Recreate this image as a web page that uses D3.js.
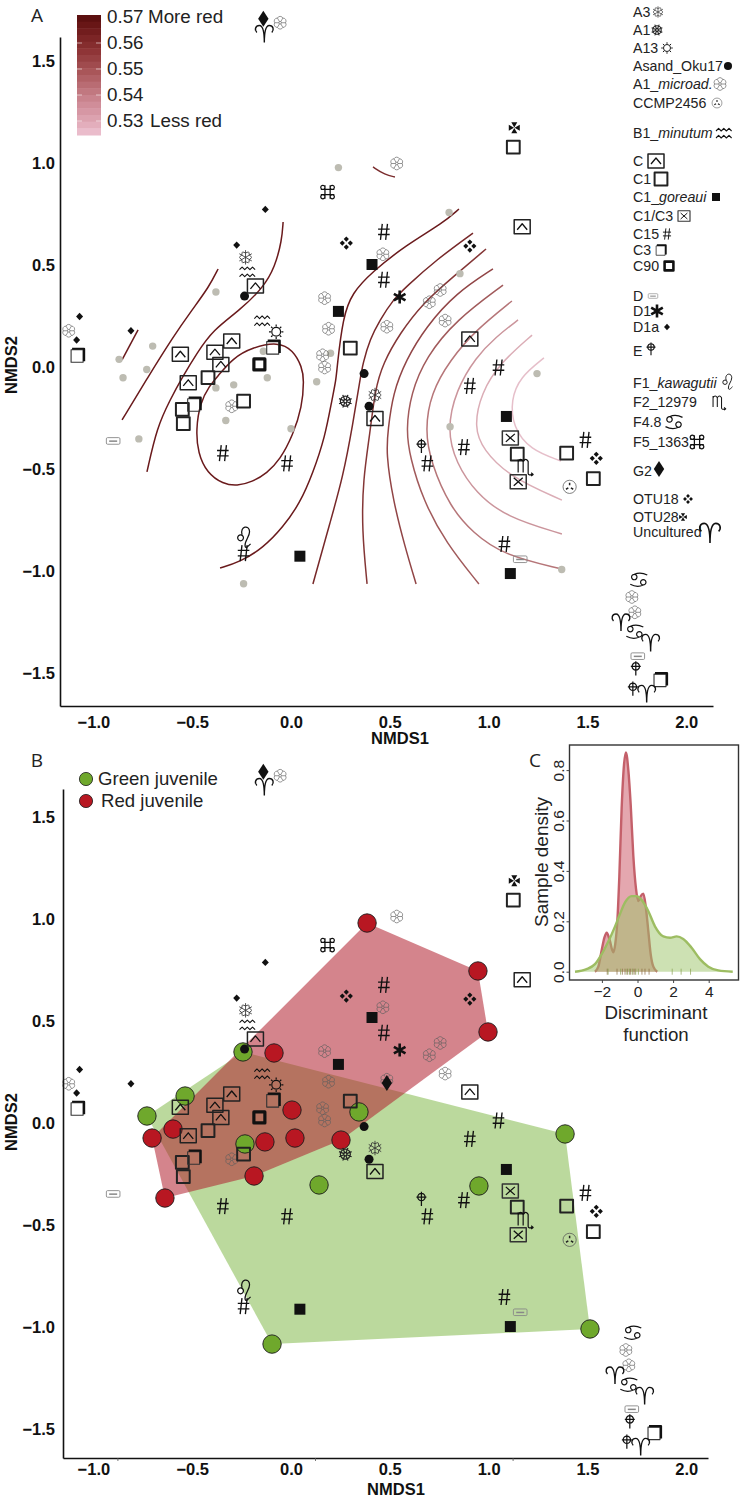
<!DOCTYPE html>
<html><head><meta charset="utf-8">
<script src="https://cdn.jsdelivr.net/npm/d3@7/dist/d3.min.js"></script>
<style>
html,body{margin:0;padding:0;background:#fff}
svg{display:block}
text{font-family:"Liberation Sans",Arial,sans-serif;fill:#111}
.letter{font-family:"Open Sans",sans-serif;font-size:19px;fill:#222}
.tick text{font-family:"Liberation Sans",Arial,sans-serif}
</style></head><body>
<svg id="chart" width="746" height="1500"></svg>
<script>
// ---------- ordination values (NMDS1, NMDS2) ----------
const ptsGrey=[[.24,.98],[-.38,.37],[-.70,.105],[-.87,.04],[-.73,-.01],[-.85,-.05],[-.14,.08],[-.12,-.05],[.20,.07],[.13,-.07],[-.38,-.10],[-.29,-.085],[-.33,-.26],[0,-.30],[-.77,-.35],[-.24,-1.06],[.80,.76],[.855,.46],[1.245,-.03],[.805,-.29],[1.37,-.99]];
const ptsC=[[-.18,.40],[-.56,.065],[-.385,.075],[-.30,.13],[-.355,.015],[-.52,-.075],[1.17,.69],[.905,.14],[.425,-.25]];
const ptsC1=[[.30,.095],[-.42,-.05],[-.55,-.205],[-.545,-.275],[-.24,-.165],[1.125,1.08],[1.145,-.425],[1.395,-.42],[1.53,-.545]];
const ptsC3=[[-1.08,.06],[-.09,.10],[-.49,-.18],[1.87,-1.53]];
const ptsC90=[[-.16,.015]];
const ptsC1C3=[[1.11,-.345],[1.15,-.56]];
const ptsGoreaui=[[.24,.275],[.41,.505],[.045,-.925],[1.09,-.24],[1.11,-1.01]];
const ptsC15=[[.47,.665],[.47,.43],[1.05,0],[.905,-.09],[.875,-.39],[.69,-.47],[1.49,-.355],[1.08,-.865],[-.345,-.42],[-.02,-.47],[-.24,-.91]];
const ptsMicroad=[[-.055,1.69],[-1.125,.18],[.17,.34],[.19,.19],[.16,.06],[.17,0],[-.30,-.19],[.535,1.0],[.465,.555],[.485,.2],[.755,.38],[.70,.32],[.78,.23],[1.725,-1.125],[1.74,-1.20]];
const ptsD1a=[[-.13,.775],[-.275,.60],[-1.07,.25],[-1.085,.135],[-.81,.18]];
const ptsB1=[[-.22,.47],[-.145,.23]];
const ptsA3=[[-.23,.54],[.425,-.135]];
const ptsA1=[[.275,-.165]];
const ptsA13=[[-.075,.175]];
const ptsAsand=[[-.235,.35],[.37,-.03],[.395,-.19]];
const ptsCCMP=[[1.41,-.585]];
const ptsD=[[-.90,-.36],[1.16,-.94],[1.755,-1.415]];
const ptsD1=[[.55,.345]];
const ptsE=[[.66,-.38],[1.745,-1.47],[1.73,-1.57]];
const ptsF1=[[-.235,-.84]];
const ptsF2=[[1.185,-.485]];
const ptsF48=[[1.76,-1.04],[1.74,-1.295]];
const ptsF5=[[.185,.86]];
const ptsG2=[[-.14,1.71]];
const ptsG2PanelB=[[.485,.184]];
const ptsOTU18=[[.28,.61],[.905,.595],[1.545,-.445]];
const ptsOTU28=[[1.13,1.175]];
const ptsUncultured=[[-.135,1.64],[1.67,-1.245],[1.82,-1.345],[1.80,-1.595]];

// ---------- red-ness contours of panel A ----------
const contourLoop=[[-.374,-.047],[-.294,.047],[-.192,.1],[-.066,.125],[.01,.086],[.056,.002],[.066,-.061],[.056,-.194],[.01,-.331],[-.056,-.453],[-.121,-.517],[-.197,-.561],[-.273,-.581],[-.344,-.571],[-.425,-.517],[-.471,-.419],[-.481,-.306],[-.461,-.174],[-.41,-.086]];
const contour1=[[-.774,.184],[-.855,.037]];
const contour2=[[-.369,.483],[-.415,.395],[-.501,.282],[-.597,.15],[-.724,-.047],[-.855,-.257]];
const contour3=[[-.04,.713],[-.046,.625],[-.081,.493],[-.142,.39],[-.258,.282],[-.395,.184],[-.476,.071],[-.552,-.051],[-.612,-.159],[-.678,-.292],[-.729,-.512]];
const contourShort=[[.415,.983],[.476,.944],[.526,.934]];
const contour4=[[-.359,-.983],[-.258,-.953],[-.142,-.885],[-.04,-.782],[.046,-.664],[.111,-.517],[.172,-.341],[.207,-.159],[.228,-.061],[.233,.002],[.263,.248],[.309,.365],[.41,.468],[.582,.6],[.769,.708],[.85,.777]];
const contour5=[[.111,-1.061],[.197,-.762],[.263,-.537],[.314,-.272],[.349,-.061],[.364,.022],[.40,.14],[.45,.233],[.516,.331],[.582,.395],[.734,.527],[.921,.659]];
const contour6=[[.385,-1.061],[.359,-.797],[.364,-.551],[.4,-.321],[.425,-.11],[.466,.022],[.552,.169],[.668,.316],[.82,.444],[.987,.581]];
const contour7=[[.633,-1.061],[.577,-.88],[.516,-.65],[.481,-.419],[.491,-.306],[.516,-.125],[.582,.037],[.683,.199],[.835,.365],[1.022,.483]];
const contour8=[[.951,-1.061],[.784,-.86],[.668,-.65],[.602,-.439],[.582,-.306],[.607,-.125],[.683,.051],[.835,.233],[1.073,.404]];
const contour9=[[1.371,-.988],[1.073,-.919],[.921,-.811],[.805,-.684],[.708,-.468],[.678,-.306],[.708,-.125],[.805,.037],[.936,.184],[1.118,.326]];
const contour10=[[1.371,-.816],[1.088,-.733],[.936,-.615],[.835,-.468],[.789,-.306],[.835,-.11],[.936,.051],[1.037,.15],[1.149,.233]];
const contour11=[[1.371,-.65],[1.108,-.537],[.972,-.404],[.926,-.292],[.962,-.125],[1.058,.022],[1.22,.159]];
const contour12=[[1.366,-.458],[1.21,-.404],[1.123,-.292],[1.113,-.159],[1.159,-.047],[1.28,.047]];
const contourSets=[[contourLoop,.57,true],[contour1,.57],[contour2,.57],[contour3,.57],[contourShort,.565],[contour4,.57],[contour5,.566],[contour6,.562],[contour7,.558],[contour8,.553],[contour9,.547],[contour10,.541],[contour11,.535],[contour12,.53]];

// ---------- panel B juveniles ----------
const ptsRedJuv=[[.385,.968],[.946,.733],[.997,.434],[-.086,.331],[.005,.051],[-.597,-.042],[-.703,-.086],[-.132,-.105],[.02,-.086],[.253,-.096],[-.187,-.272],[-.638,-.38]];
const ptsGreenJuv=[[-.243,.336],[-.536,.12],[-.729,.022],[.344,.042],[-.233,-.115],[.142,-.316],[-.096,-1.096],[1.387,-.066],[.951,-.321],[1.513,-1.022]];

// ---------- panel C densities ----------
const densityRed=[[-2.39,0],[-2.2,.02],[-2.01,.086],[-1.86,.135],[-1.73,.155],[-1.58,.13],[-1.36,.077],[-1.25,.11],[-1.13,.205],[-1.02,.38],[-.89,.65],[-.76,.82],[-.65,.87],[-.515,.80],[-.38,.66],[-.235,.46],[-.085,.33],[.05,.28],[.18,.30],[.33,.31],[.46,.26],[.61,.16],[.74,.07],[.89,.02],[1.11,0]];
const densityGreen=[[-3.51,0],[-2.86,.01],[-2.39,.03],[-2.01,.07],[-1.64,.12],[-1.26,.18],[-.98,.23],[-.70,.275],[-.33,.30],[-.05,.30],[.23,.285],[.61,.24],[.98,.18],[1.45,.14],[1.83,.135],[2.2,.14],[2.57,.13],[3.04,.095],[3.51,.05],[3.98,.02],[4.54,.005],[5.35,0]];
const rugRed=[-1.7,-1.15,-.85,-.7,-.55,-.4,-.25,-.15,.25,.42,.65];
const rugGreen=[-1.65,-.95,-.6,-.45,-.3,-.1,.05,1.95,2.45,2.98];

const xTicks=[-1,-.5,0,.5,1,1.5,2];
const yTicks=[-1.5,-1,-.5,0,.5,1,1.5];
const cbTicks=[.57,.56,.55,.54,.53];
const cbNotes=["More red","","","","Less red"];
const cxTicks=[-2,0,2,4];
const cyTicks=[0,.2,.4,.6,.8];

// ---------- glyphs ----------
const circ=(x,y,r)=>{const p=d3.path();p.moveTo(x+r,y);p.arc(x,y,r,0,2*Math.PI);p.closePath();return p.toString();};
const polar=(r,deg)=>[r*Math.cos(deg*Math.PI/180),r*Math.sin(deg*Math.PI/180)];
function rosettePath(){let d="";const n=6,R=5.4,a=3,inner=1.3;
  const start=polar(R,0);d+=`M${start}`;
  for(let i=1;i<=n;i++){const q=polar(R,i*60);d+=`A${a},${a} 0 0 1 ${q}`;}
  d+="Z";for(let i=0;i<n;i++){const p=polar(inner,i*60),q=polar(R,i*60);d+=`M${p}L${q}`;}
  d+=circ(0,0,inner);return d;}
function snowPath(){let d="";[30,90,150,210,270,330].forEach(t=>{const q=polar(7.2,t),m=polar(4.4,t),b1=polar(6.2,t-28),b2=polar(6.2,t+28);d+=`M0,0L${q}M${m}L${b1}M${m}L${b2}`;});return d;}
function wheelPath(){let d=circ(0,0,1.6)+circ(0,0,5);for(let i=0;i<8;i++){const p=polar(1.6,i*45+22.5),q=polar(6.8,i*45+22.5);d+=`M${p}L${q}`;}return d;}
function sunPath(){let d=circ(0,0,4.4);for(let i=0;i<8;i++){const p=polar(5.2,i*45),q=polar(7.2,i*45);d+=`M${p}L${q}`;}return d;}
const zig=y=>`M-8,${y}l2.6,-2.6l2.6,2.6l2.6,-2.6l2.6,2.6l2.6,-2.6l2.6,2.6`;
const diam=(x,y,rx,ry)=>`M${x},${y-ry}L${x+rx},${y}L${x},${y+ry}L${x-rx},${y}Z`;
const glyphs={
 microad:[{d:rosettePath(),s:"#5f5f5f",w:.65}],
 A3:[{d:snowPath(),s:"#333",w:.85}],
 A1:[{d:wheelPath(),s:"#222",w:1.25}],
 A13:[{d:sunPath(),s:"#111",w:1.2}],
 Asand:[{d:circ(0,0,4.5),f:"#111"}],
 CCMP:[{d:circ(0,0,6.6),s:"#555",w:.75},{d:"M0,-1.5V-4M-1.3,1L-3.6,2.4M1.3,1L3.6,2.4",s:"#222",w:1.5}],
 B1:[{d:zig(-2)+zig(5),s:"#111",w:1.1}],
 C:[{d:"M-8,-7H8V7H-8Z",s:"#222",w:1.5},{d:"M-5,3L0,-3L5,3",s:"#111",w:1.3}],
 C1:[{d:"M-6.4,-6.4H6.4V6.4H-6.4Z",s:"#222",w:2}],
 goreaui:[{d:"M-5.5,-5.5H5.5V5.5H-5.5Z",f:"#111"}],
 C1C3:[{d:"M-8,-7H8V7H-8Z",s:"#333",w:1.5},{d:"M-4.5,-4L4.5,4M-4.5,4L4.5,-4",s:"#111",w:1.3}],
 C15:[{d:"M-1.6,-8L-3.4,8M3.6,-8L1.8,8M-5.8,-2.7H5.8M-5.8,2.7H5.8",s:"#111",w:1.35}],
 C3:[{d:"M-6.5,-5.5H5.5V7H-6.5Z",s:"#333",w:1.1},{d:"M-5.5,-6.5H6.5V6",s:"#111",w:2.2}],
 C90:[{d:"M-5.5,-5.5H5.5V5.5H-5.5Z",s:"#111",w:3.2}],
 D:[{d:"M-5.6,-3.3H5.6Q6.8,-3.3 6.8,-2.1V2.1Q6.8,3.3 5.6,3.3H-5.6Q-6.8,3.3 -6.8,2.1V-2.1Q-6.8,-3.3 -5.6,-3.3Z",s:"#888",w:.9},{d:"M-4,.2H4",s:"#888",w:1.5}],
 D1:[{d:"M0,-6.5V6.5M-5.8,-3.3L5.8,3.3M-5.8,3.3L5.8,-3.3",s:"#111",w:2.6}],
 D1a:[{d:diam(0,0,3.5,3.7),f:"#111"}],
 E:[{d:circ(0,-1,3.7)+"M0,-6.2V8M-5,-1H5",s:"#111",w:1.25}],
 F1:[{d:circ(-4,-1,2.9)+"M-2.5,-4C-5,-13 5,-14.5 5,-7C5,-2 0,2 .5,7C1,10 3,8 6,5",s:"#111",w:1.25}],
 F2:[{d:"M-7,-7V6M-7,-5Q-4.5,-9 -2,-5V6M-2,-5Q.5,-9 3,-5V7Q3,9.3 8,8M6,6.3L8,8L6,9.6",s:"#111",w:1.2}],
 F48:[{d:circ(-4.5,-2.6,2.7)+circ(4.5,2.6,2.7)+"M-4.5,-5.3C-1,-7 4,-7 8.5,-4.6M4.5,5.3C1,7 -4,7 -8.5,4.6",s:"#111",w:1.2}],
 F5:[{d:"M-2.6,-6.8V6.8M2.6,-6.8V6.8M-6.8,-2.6H6.8M-6.8,2.6H6.8"+circ(-4.7,-4.7,2.1)+circ(4.7,-4.7,2.1)+circ(-4.7,4.7,2.1)+circ(4.7,4.7,2.1),s:"#111",w:1.25}],
 G2:[{d:diam(0,0,5.2,8),f:"#111"}],
 OTU18:[{d:diam(0,-4,2.6,2.6)+diam(0,4,2.6,2.6)+diam(-4,0,2.6,2.6)+diam(4,0,2.6,2.6),f:"#111"}],
 OTU28:[{d:"M0,-.3L-3,-5.5H3ZM0,.3L-3,5.5H3ZM-.3,0L-5.5,-3V3ZM.3,0L5.5,-3V3Z",f:"#111"}],
 Uncultured:[{d:"M0,9.5C0,1 -1,-7.5 -5,-7.5C-9,-7.5 -10,-3 -7.5,-.5M0,9.5C0,1 1,-7.5 5,-7.5C9,-7.5 10,-3 7.5,-.5",s:"#111",w:1.4}]
};
function mark(parent,key,x,y,k=1){
  const g=parent.append("g").attr("class","sym sym-"+key).attr("transform",`translate(${x},${y}) scale(${k})`);
  g.selectAll("path").data(glyphs[key]).join("path").attr("d",p=>p.d)
    .attr("fill",p=>p.f||"none").attr("stroke",p=>p.s||"none").attr("stroke-width",p=>p.w||0)
    .attr("stroke-linejoin","round");
}
const symbolSets=[["microad",ptsMicroad],["Asand",ptsAsand],["A3",ptsA3],["A1",ptsA1],["A13",ptsA13],["CCMP",ptsCCMP],["B1",ptsB1],["C",ptsC],["C1",ptsC1],["goreaui",ptsGoreaui],["C1C3",ptsC1C3],["C15",ptsC15],["C3",ptsC3],["C90",ptsC90],["D",ptsD],["D1",ptsD1],["D1a",ptsD1a],["E",ptsE],["F1",ptsF1],["F2",ptsF2],["F48",ptsF48],["F5",ptsF5],["G2",ptsG2],["OTU18",ptsOTU18],["OTU28",ptsOTU28],["Uncultured",ptsUncultured]];

// ---------- layout ----------
const svg=d3.select("#chart");
const pxX=197.6,pxY=204;
const scaleX=(left,right,x0=291)=>d3.scaleLinear().domain([(left-x0)/pxX,(right-x0)/pxX]).range([left,right]);
const scaleY=(bottom,topEdge,y0)=>d3.scaleLinear().domain([(y0-bottom)/pxY,(y0-topEdge)/pxY]).range([bottom,topEdge]);
const xA=scaleX(60,713),yA=scaleY(706,37,367.5);
const xB=scaleX(63,708),yB=scaleY(1458,789,1120.5);
const fmt1=d3.format(".1f");

function axes(xs,ys,bottom,left,xPad,yPad,yShift){
  const ax=svg.append("g").attr("transform",`translate(0,${bottom})`)
    .call(d3.axisBottom(xs).tickValues(xTicks).tickFormat(fmt1).tickSize(0).tickPadding(xPad));
  const ay=svg.append("g").attr("transform",`translate(${left},0)`)
    .call(d3.axisLeft(ys).tickValues(yTicks).tickFormat(fmt1).tickSize(0).tickPadding(yPad));
  ay.selectAll("text").attr("transform",`translate(0,${yShift})`);
  [ax,ay].forEach(a=>{a.selectAll("text").style("font-size","16.5px").style("font-weight","700").style("fill","#111");
    a.select(".domain").attr("stroke","#111").attr("stroke-width",1.6);});
}
function symbols(g,xs,ys,extra=[],shift=()=>0){
  symbolSets.concat(extra).forEach(([key,pts])=>pts.forEach(p=>mark(g,key,xs(p[0])+shift(p),ys(p[1]))));
}

// ---------- panel A ----------
const levelColor=d3.scaleLinear().domain([.53,.54,.55,.56,.57]).range(["#e6bfca","#cf9aa2","#ab6668","#8a3d3d","#6a1a1c"]);
const gA=svg.append("g");
const lineA=d3.line().x(d=>xA(d[0])).y(d=>yA(d[1])).curve(d3.curveBasis);
const loopA=d3.line().x(d=>xA(d[0])).y(d=>yA(d[1])).curve(d3.curveBasisClosed);
gA.selectAll("path.contour").data(contourSets).join("path").attr("class","contour")
  .attr("d",c=>(c[2]?loopA:lineA)(c[0])).attr("fill","none")
  .attr("stroke",c=>levelColor(c[1])).attr("stroke-width",1.5);
gA.selectAll("circle.env").data(ptsGrey).join("circle").attr("class","env")
  .attr("cx",d=>xA(d[0])).attr("cy",d=>yA(d[1])).attr("r",3.7).attr("fill","#bdbcb2");
symbols(gA,xA,yA);
axes(xA,yA,706,60,10,5,0);
svg.append("text").attr("x",400).attr("y",744).attr("text-anchor","middle").style("font-size","16.5px").style("font-weight","700").text("NMDS1");
svg.append("text").attr("transform","translate(17,365) rotate(-90)").attr("text-anchor","middle").style("font-size","16.5px").style("font-weight","700").text("NMDS2");
svg.append("text").attr("class","letter").attr("x",37).attr("y",22).attr("text-anchor","middle").text("A");

// colour bar
const cbY=d3.scaleLinear().domain([.57,.53]).range([17,121]);
const cbBands=d3.range(18);
const cbVal=d3.scaleLinear().domain([0,17]).range([.5745,.5255]);
const rampBar=d3.scaleLinear().domain([.5255,.53,.54,.55,.56,.57,.5745]).range(["#eabccb","#dfa6b4","#c9838d","#ad5b5f","#8f3537","#6e1a1a","#5c1010"]);
svg.append("g").selectAll("rect").data(cbBands).join("rect").attr("x",77).attr("width",24)
  .attr("y",i=>15+i*120/18).attr("height",120/18+.5).attr("fill",i=>rampBar(cbVal(i)));
svg.append("g").selectAll("path").data(cbTicks.slice(1)).join("path")
  .attr("d",v=>`M77,${cbY(v)}h5M96,${cbY(v)}h5`).attr("stroke","#fff").attr("stroke-opacity",.7).attr("stroke-width",.8);
const cbLab=svg.append("g").selectAll("g").data(cbTicks).join("g");
cbLab.append("text").attr("x",107).attr("y",(v,i)=>cbY(v)+6).style("font-size","18.8px").style("fill","#222").text(d3.format(".2f"));
cbLab.append("text").attr("x",(v,i)=>i===0?148:150).attr("y",(v,i)=>cbY(v)+6).style("font-size","18.8px").style("fill","#222").text((v,i)=>cbNotes[i]);

// key of symbols
const keyItems=[
 ["A3","","A3",12,658,.8],["A1","","A1",30,657,.85],["A13","","A13",48,667,.8],["Asand_Oku17","","Asand",66,728,.9],
 ["A1_","microad.","microad",84,720,1],["CCMP2456","","CCMP",103,717,.75],["B1_","minutum","B1",133,724,1],
 ["C","","C",161,656,1],["C1","","C1",179,661,1],["C1_","goreaui","goreaui",197,716,.73],["C1/C3","","C1C3",216,684,.75],
 ["C15","","C15",234,667,.7],["C3","","C3",250,661,.75],["C90","","C90",266,669,.8],["D","","D",296,653,.7],
 ["D1","","D1",311,657,1],["D1a","","D1a",327,667,.85],["E","","E",348,651,.9],["F1_","kawagutii","F1",383,728,.75],
 ["F2_12979","","F2",402,719,.85],["F4.8","","F48",422,674,1],["F5_1363","","F5",442,697,1],["G2","","G2",469,659,1],
 ["OTU18","","OTU18",499,688,.75],["OTU28","","OTU28",517,683,.7],["Uncultured","","Uncultured",532,710,1.15]];
const keyTextY={E:351,G2:471};
const keyG=svg.append("g");
keyItems.forEach(([a,it,sym,y,sx,k])=>{
  const t=keyG.append("text").attr("x",633).attr("y",(keyTextY[sym]||y)+5).style("font-size","14.2px").style("fill","#222");
  t.append("tspan").text(a);
  if(it)t.append("tspan").style("font-style","italic").text(it);
  mark(keyG,sym,sx,y,k);
});

// ---------- panel B ----------
const gB=svg.append("g");
const hullG=d3.polygonHull(ptsGreenJuv.map(d=>[xB(d[0]),yB(d[1])]));
const hullR=d3.polygonHull(ptsRedJuv.map(d=>[xB(d[0]),yB(d[1])]));
const pathOf=h=>"M"+h.join("L")+"Z";
gB.append("path").attr("d",pathOf(hullG)).attr("fill","#6fae2e").attr("fill-opacity",.47);
gB.append("path").attr("d",pathOf(hullR)).attr("fill","#b11f2e").attr("fill-opacity",.55);
const juv=(data,fill)=>gB.append("g").selectAll("circle").data(data).join("circle")
  .attr("cx",d=>xB(d[0])).attr("cy",d=>yB(d[1])).attr("r",9.2).attr("fill",fill).attr("stroke","#1a1a1a").attr("stroke-width",.9);
juv(ptsGreenJuv,"#6fa82c");
juv(ptsRedJuv,"#b81722");
const lowerCluster=p=>(p[0]>1.6&&p[1]<-1)?-6:0;
symbols(gB,xB,yB,[["G2",ptsG2PanelB]],lowerCluster);
axes(xB,yB,1458,63,5,8,2.5);
svg.append("g").attr("transform","translate(24,1458)")
  .call(d3.axisBottom(xB).tickValues([-1,0,1]).tickFormat("").tickSize(3))
  .call(g=>{g.select(".domain").remove();g.selectAll("line").attr("stroke","#555").attr("stroke-width",.8);});
svg.append("text").attr("x",396).attr("y",1495).attr("text-anchor","middle").style("font-size","16.5px").style("font-weight","700").text("NMDS1");
svg.append("text").attr("transform","translate(17,1122) rotate(-90)").attr("text-anchor","middle").style("font-size","16.5px").style("font-weight","700").text("NMDS2");
svg.append("text").attr("class","letter").attr("x",37).attr("y",767).attr("text-anchor","middle").text("B");
const juvLegend=[["Green juvenile","#6fa82c",779,98],["Red juvenile","#b81722",801,101]];
juvLegend.forEach(([t,c,y,tx])=>{
  svg.append("circle").attr("cx",86).attr("cy",y).attr("r",6.6).attr("fill",c).attr("stroke","#1a1a1a").attr("stroke-width",.8);
  svg.append("text").attr("x",tx).attr("y",y+6).style("font-size","18.6px").style("fill","#222").text(t);
});

// ---------- panel C ----------
const xC=d3.scaleLinear().domain([(569.5-637.5)/17.8,(738.5-637.5)/17.8]).range([569.5,738.5]);
const yC=d3.scaleLinear().domain([(971.7-980)/252,(971.7-745)/252]).range([980,745]);
const gC=svg.append("g");
const area=d3.area().x(d=>xC(d[0])).y0(yC(0)).y1(d=>yC(d[1])).curve(d3.curveMonotoneX);
const topLine=d3.line().x(d=>xC(d[0])).y(d=>yC(d[1])).curve(d3.curveMonotoneX);
gC.append("path").attr("d",area(densityRed)).attr("fill","#c9505f").attr("fill-opacity",.5);
gC.append("path").attr("d",topLine(densityRed)).attr("fill","none").attr("stroke","#c4606a").attr("stroke-width",2.4);
gC.append("path").attr("d",area(densityGreen)).attr("fill","#9cc468").attr("fill-opacity",.5);
gC.append("path").attr("d",topLine(densityGreen)).attr("fill","none").attr("stroke","#9dbd62").attr("stroke-width",2.4);
const rug=(vals,c)=>gC.append("g").selectAll("line").data(vals).join("line")
  .attr("x1",d=>xC(d)).attr("x2",d=>xC(d)).attr("y1",yC(0)-3).attr("y2",yC(0)+3).attr("stroke",c).attr("stroke-width",.7);
rug(rugRed,"#8a6a40");rug(rugGreen,"#8aa052");
gC.append("rect").attr("x",569.5).attr("y",745).attr("width",169).attr("height",235).attr("fill","none").attr("stroke","#333").attr("stroke-width",1.4);
const cxa=svg.append("g").attr("transform","translate(0,980)").call(d3.axisBottom(xC).tickValues(cxTicks).tickFormat(d3.format("d")).tickSize(3).tickPadding(3).tickSizeOuter(0));
const cya=svg.append("g").attr("transform","translate(569.5,0)").call(d3.axisLeft(yC).tickValues(cyTicks).tickFormat(d3.format(".1f")).tickSize(3).tickPadding(3).tickSizeOuter(0));
[cxa,cya].forEach(a=>{a.select(".domain").remove();a.selectAll("line").attr("stroke","#444");a.selectAll("text").style("font-size","15.5px").style("fill","#222");});
cya.selectAll("text").attr("x",0).attr("y",0).attr("dy",0).attr("text-anchor","middle").attr("transform","translate(-6,0) rotate(-90)");
svg.append("text").attr("transform","translate(548,862) rotate(-90)").attr("text-anchor","middle").style("font-size","19px").style("fill","#222").text("Sample density");
svg.append("text").attr("x",656).attr("y",1019).attr("text-anchor","middle").style("font-size","18.7px").style("fill","#222").text("Discriminant");
svg.append("text").attr("x",656).attr("y",1041).attr("text-anchor","middle").style("font-size","18.7px").style("fill","#222").text("function");
svg.append("text").attr("class","letter").attr("x",535).attr("y",767).attr("text-anchor","middle").text("C");
</script>
</body></html>
